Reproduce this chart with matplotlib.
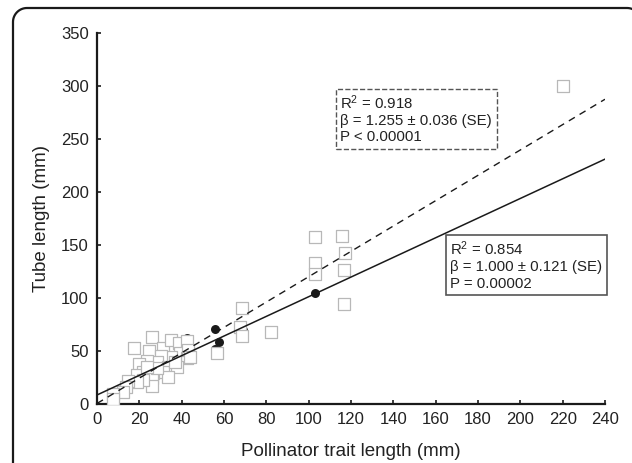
import matplotlib
matplotlib.use("Agg")
import matplotlib.pyplot as plt
from matplotlib.path import Path
from matplotlib.patches import PathPatch
import numpy as np

plt.rcParams['font.family'] = ['Liberation Sans', 'DejaVu Sans']
plt.rcParams['mathtext.fontset'] = 'custom'
plt.rcParams['mathtext.rm'] = 'Liberation Sans'
plt.rcParams['mathtext.it'] = 'Liberation Sans:italic'
plt.rcParams['mathtext.bf'] = 'Liberation Sans:bold'

# open squares (species data)
sq_x = [25.8, 17.6, 24.7, 31.3, 34.8, 38.9, 42.7, 43.1, 39.2, 34.8, 30.1, 28.5,
        23.8, 20.0, 42.7, 33.7, 37.9, 31.3, 26.6, 21.9, 19.0, 33.7, 25.8, 25.8,
        21.9, 18.7, 14.8, 13.7, 12.1, 7.7, 7.4, 28.2, 23.5, 36.8, 42.8, 44.0,
        68.5, 67.5, 68.5, 82.0, 56.7,
        103.0, 115.7, 117.0, 103.0, 103.0, 116.7, 116.7, 220.0]
sq_y = [63.5, 53.1, 50.0, 53.1, 60.4, 57.3, 59.4, 47.8, 47.8, 44.6, 45.6, 40.0,
        40.6, 37.4, 43.1, 35.2, 35.2, 30.5, 29.0, 30.5, 27.4, 25.8, 24.2, 17.3,
        22.6, 21.0, 21.7, 16.3, 11.6, 9.1, 4.7, 34.2, 35.2, 40.0, 51.0, 44.0,
        90.6, 72.6, 64.0, 68.0, 48.0,
        157.5, 158.5, 142.5, 133.0, 122.6, 126.4, 94.3, 300.0]

# filled circles
ci_x = [42.7, 38.9, 55.7, 57.6, 55.7, 69.0, 103.0]
ci_y = [62.0, 36.8, 70.7, 58.5, 52.0, 70.0, 104.7]

# regression lines (endpoints)
line_x = [0, 240]
solid_y = [8.5, 231.0]
dashed_y = [0.5, 287.5]

x_ticks = list(range(0, 241, 20))
y_ticks = list(range(0, 351, 50))

W, H = 632, 463
fig = plt.figure(figsize=(W / 100, H / 100), dpi=100)
ax = fig.add_axes([97/W, 1-404/H, (605-97)/W, (404-33)/H])

ax.scatter(ci_x, ci_y, s=42, c='#1a1a1a', marker='o', zorder=2, linewidths=0)
ax.scatter(sq_x, sq_y, s=68, marker='s', facecolors='white', edgecolors='#b8b8b8',
           linewidths=0.9, zorder=3)
ax.plot(line_x, solid_y, color='#1a1a1a', lw=1.1, zorder=4)
ax.plot(line_x, dashed_y, color='#1a1a1a', lw=1.0, ls=(0, (5, 4)), zorder=4)

ax.set_xlim(0, 240)
ax.set_ylim(0, 350)
ax.set_xticks(x_ticks)
ax.set_yticks(y_ticks)
for s in ['top', 'right']:
    ax.spines[s].set_visible(False)
for s in ['left', 'bottom']:
    ax.spines[s].set_linewidth(1.6)
    ax.spines[s].set_color('#1a1a1a')
ax.tick_params(direction='in', length=3, width=1.2, labelsize=12, colors='#1a1a1a',
               labelcolor='#222222', pad=6)
ax.set_xlabel('Pollinator trait length (mm)', fontsize=13.5, color='#222222', labelpad=11)
ax.set_ylabel('Tube length (mm)', fontsize=13.5, color='#222222', labelpad=8)

ax.text(115.0, 293.0, 'R$^2$ = 0.918\nβ = 1.255 ± 0.036 (SE)\nP < 0.00001', fontsize=10.8,
        va='top', ha='left', color='#222222', linespacing=1.2, zorder=5,
        bbox=dict(boxstyle='square,pad=0.3', fc='white', ec='#555555', lw=1.0, ls='--'))
ax.text(167.0, 155.0, 'R$^2$ = 0.854\nβ = 1.000 ± 0.121 (SE)\nP = 0.00002', fontsize=10.8,
        va='top', ha='left', color='#222222', linespacing=1.2, zorder=5,
        bbox=dict(boxstyle='square,pad=0.3', fc='white', ec='#555555', lw=1.2))

# rounded outer frame (left, top, right edges; open at bottom)
L, R, T, B, r = 13, 641, H - 8, -20, 14
t = np.linspace(np.pi, np.pi / 2, 20)
left_arc = np.column_stack([L + r + r * np.cos(t), T - r + r * np.sin(t)])
t2 = np.linspace(np.pi / 2, 0, 20)
right_arc = np.column_stack([R - r + r * np.cos(t2), T - r + r * np.sin(t2)])
pts = np.vstack([[[L, B]], left_arc, right_arc, [[R, B]]])
pts[:, 0] /= W
pts[:, 1] /= H
frame = PathPatch(Path(pts), transform=fig.transFigure, fill=False, ec='#1a1a1a', lw=1.6)
fig.patches.append(frame)

fig.savefig('out.png', dpi=100)
